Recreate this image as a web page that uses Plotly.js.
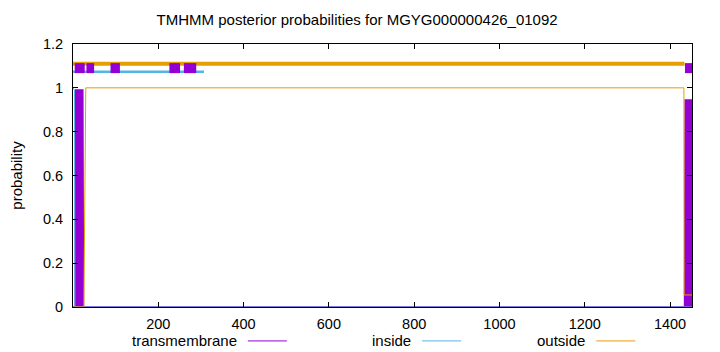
<!DOCTYPE html>
<html>
<head>
<meta charset="utf-8">
<script src="https://cdn.plot.ly/plotly-3.0.1.min.js"></script>
<style>html,body{margin:0;padding:0;background:#fff;}#plot{width:720px;height:352px;}</style>
</head>
<body>
<div id="plot"></div>
<script>
// ---- data ----
const titleText = "TMHMM posterior probabilities for MGYG000000426_01092";
const seriesNames = ["transmembrane", "inside", "outside"];

// posterior probability curves (position, probability)
const tmX = [0, 5, 6, 23, 24.5, 1434, 1435.5, 1450, 1451.5];
const tmY = [0, 0, 0.99, 0.99, 0, 0, 0.945, 0.945, 0.945];
const inX = [0, 3.5, 4.5, 1451.5];
const inY = [1, 0.99, 0, 0];
const outX = [0, 25.5, 30, 1432.5, 1433, 1451.5];
const outY = [0, 0, 1, 1, 0.055, 0.055];

// predicted topology segments drawn above the curves
const tmSegStart = [4, 31.5, 88, 226, 260, 1435];
const tmSegEnd = [27.5, 49.5, 110, 251, 289, 1453];
const tmSegLevel = 1.09;
const inSegStart = [0];
const inSegEnd = [307];
const inSegLevel = 1.073;
const outSegStart = [0];
const outSegEnd = [1434];
const outSegLevel = 1.11;

const xTicks = [200, 400, 600, 800, 1000, 1200, 1400];
const yTicks = [0, 0.2, 0.4, 0.6, 0.8, 1, 1.2];
const yTickText = ["0", "0.2", "0.4", "0.6", "0.8", "1", "1.2"];
const xRange = [0, 1451.5];
const yRange = [0, 1.2];

// ---- build ----
const PURPLE = "#9400D3", BLUE = "#56B4E9", ORANGE = "#E69F00";
function segs(starts, ends, level) {
  const x = [], y = [];
  for (let i = 0; i < starts.length; i++) {
    x.push(starts[i], ends[i], null);
    y.push(level, level, null);
  }
  return {x, y};
}
const sOut = segs(outSegStart, outSegEnd, outSegLevel);
const sIn = segs(inSegStart, inSegEnd, inSegLevel);
const sTm = segs(tmSegStart, tmSegEnd, tmSegLevel);

const traces = [
  {x: sOut.x, y: sOut.y, mode: "lines", line: {color: ORANGE, width: 4}, showlegend: false, hoverinfo: "skip"},
  {x: sIn.x, y: sIn.y, mode: "lines", line: {color: BLUE, width: 2.5}, showlegend: false, hoverinfo: "skip"},
  {x: sTm.x, y: sTm.y, mode: "lines", line: {color: PURPLE, width: 10}, showlegend: false, hoverinfo: "skip"},
  {x: tmX, y: tmY, mode: "lines", fill: "tozeroy", fillcolor: PURPLE, line: {color: PURPLE, width: 1.5}, name: seriesNames[0], showlegend: false},
  {x: inX, y: inY, mode: "lines", line: {color: BLUE, width: 1}, name: seriesNames[1], showlegend: false},
  {x: outX, y: outY, mode: "lines", line: {color: ORANGE, width: 1}, name: seriesNames[2], showlegend: false}
];

const FONTFAM = "Liberation Sans, Arial, sans-serif";
// legend drawn gnuplot-style: text followed by line sample
const legendText = [
  {name: seriesNames[0], color: PURPLE, xEnd: 0.268, l0: 0.2825, l1: 0.3455},
  {name: seriesNames[1], color: BLUE, xEnd: 0.549, l0: 0.5639, l1: 0.627},
  {name: seriesNames[2], color: ORANGE, xEnd: 0.8307, l0: 0.8453, l1: 0.9084}
];
const legY = -0.129;
const annotations = legendText.map(l => ({
  xref: "paper", yref: "paper", x: l.xEnd, y: legY, xanchor: "right", yanchor: "middle",
  text: l.name, showarrow: false, font: {family: FONTFAM, size: 15, color: "#000"}
}));
const shapes = legendText.map(l => ({
  type: "line", xref: "paper", yref: "paper", x0: l.l0, x1: l.l1, y0: legY, y1: legY,
  line: {color: l.color, width: 1}
}));

const font = {family: FONTFAM, size: 14.5, color: "#000"};
const layout = {
  width: 720, height: 352,
  margin: {l: 73.3, r: 28.3, t: 44, b: 45, pad: 0},
  paper_bgcolor: "#fff", plot_bgcolor: "#fff",
  font: font,
  showlegend: false,
  title: {text: titleText, x: 0.496, xref: "container", xanchor: "center", y: 0.943, yanchor: "middle", font: {family: FONTFAM, size: 15, color: "#000"}},
  xaxis: {
    range: xRange, tickvals: xTicks, ticktext: xTicks.map(String),
    ticks: "inside", ticklen: 5, tickcolor: "#000", mirror: "ticks",
    showline: true, linecolor: "#000", linewidth: 1, showgrid: false, zeroline: false,
    ticklabelstandoff: 4, tickfont: font
  },
  yaxis: {
    range: yRange, tickvals: yTicks, ticktext: yTickText,
    ticks: "inside", ticklen: 5, tickcolor: "#000", mirror: "ticks",
    showline: true, linecolor: "#000", linewidth: 1, showgrid: false, zeroline: false,
    ticklabelstandoff: 6, tickfont: font,
    title: {text: "probability", font: {family: FONTFAM, size: 15, color: "#000"}, standoff: 16}
  },
  annotations: annotations,
  shapes: shapes
};
Plotly.newPlot("plot", traces, layout, {staticPlot: true, displayModeBar: false});
</script>
</body>
</html>
